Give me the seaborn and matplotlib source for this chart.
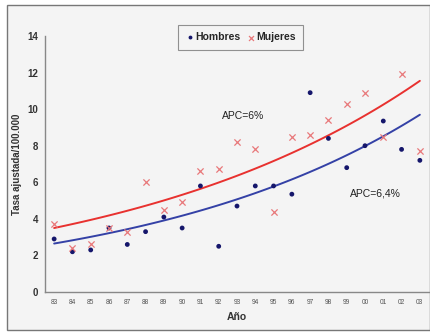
import numpy as np
import pandas as pd
import matplotlib
matplotlib.use('Agg')
import matplotlib.pyplot as plt
import seaborn as sns
from matplotlib.patches import Rectangle

sns.set_style('white')
plt.rcParams['font.family'] = ['Liberation Sans', 'DejaVu Sans']

# datos
years = ['83', '84', '85', '86', '87', '88', '89', '90', '91', '92', '93',
         '94', '95', '96', '97', '98', '99', '00', '01', '02', '03']
hombres = [2.9, 2.2, 2.3, 3.5, 2.6, 3.3, 4.1, 3.5, 5.8, 2.5, 4.7,
           5.8, 5.8, 5.35, 10.9, 8.4, 6.8, 8.0, 9.35, 7.8, 7.2]
mujeres = [3.7, 2.4, 2.6, 3.5, 3.3, 6.0, 4.5, 4.9, 6.6, 6.7, 8.2,
           7.8, 4.4, 8.5, 8.6, 9.4, 10.3, 10.9, 8.5, 11.9, 7.7]
yticks = [0, 2, 4, 6, 8, 10, 12, 14]

# parametros de las curvas de tendencia (valor en 1983, cambio anual)
hombres_fit = (2.65, 0.067)
mujeres_fit = (3.5, 0.0615)

idx = np.arange(len(years))
df = pd.DataFrame({'i': idx, 'Hombres': hombres, 'Mujeres': mujeres})

def trend(params):
    a, r = params
    xs = np.linspace(0, len(years) - 1, 100)
    return xs, a * (1 + r) ** xs

fig = plt.figure(figsize=(4.31, 3.32), dpi=100)
fig.patch.set_facecolor('white')
fig.patches.append(Rectangle((7 / 431, 1 - 330 / 332), 423 / 431, 325 / 332,
                             transform=fig.transFigure, facecolor='#f4f4f4',
                             edgecolor='#777777', linewidth=1.0, zorder=-1))
ax = fig.add_axes([45 / 431, 40 / 332, 384 / 431, 256 / 332])
ax.set_facecolor('none')

xh, yh = trend(hombres_fit)
xm, ym = trend(mujeres_fit)
sns.lineplot(x=xm, y=ym, ax=ax, color='#e8312f', linewidth=1.4)
sns.lineplot(x=xh, y=yh, ax=ax, color='#3441a6', linewidth=1.4)

sns.scatterplot(data=df, x='i', y='Hombres', ax=ax, color='#15166b', marker='o',
                s=12, edgecolor='none', label='Hombres', zorder=3)
sns.scatterplot(data=df, x='i', y='Mujeres', ax=ax, color='#e8787a', marker='x',
                s=20, linewidth=0.9, label='Mujeres', zorder=3)

ax.set_xlim(-0.5, len(years) - 0.5)
ax.set_ylim(0, 14)
ax.set_yticks(yticks)
ax.set_yticklabels([str(t) for t in yticks], fontsize=7, fontweight='bold', color='#333333')
ax.set_xticks(idx)
ax.set_xticklabels(years, fontsize=4.8, color='#555555')
ax.set_xticks(np.arange(-0.5, len(years), 1), minor=True)
ax.tick_params(axis='x', which='major', length=0, pad=5)
ax.tick_params(axis='x', which='minor', length=3, direction='inout', color='#888888', width=0.8)
ax.tick_params(axis='y', length=3, direction='out', color='#888888', width=0.8, pad=2)

for s in ['top', 'right']:
    ax.spines[s].set_visible(False)
for s in ['left', 'bottom']:
    ax.spines[s].set_color('#888888')
    ax.spines[s].set_linewidth(1.0)

ax.set_xlabel('Año', fontsize=7.5, fontweight='bold', color='#333333', labelpad=4)
ax.set_ylabel('Tasa ajustada/100.000', fontsize=7, fontweight='bold', color='#333333', labelpad=4)

ax.text(9.2, 9.62, 'APC=6%', fontsize=7.5, color='#222222', va='center')
ax.text(16.2, 5.36, 'APC=6,4%', fontsize=7.5, color='#222222', va='center')

leg = ax.legend(loc='upper left', bbox_to_anchor=(133 / 384, 1.043), ncol=2,
                fontsize=7.5, frameon=True, fancybox=False, handletextpad=0.0,
                columnspacing=0.5, borderpad=0.7, borderaxespad=0, handlelength=1.0,
                markerscale=0.8)
leg.get_frame().set_edgecolor('#777777')
leg.get_frame().set_facecolor('#f4f4f4')
leg.get_frame().set_linewidth(0.8)
for t in leg.get_texts():
    t.set_fontweight('bold')

fig.savefig('out.png', dpi=100)
